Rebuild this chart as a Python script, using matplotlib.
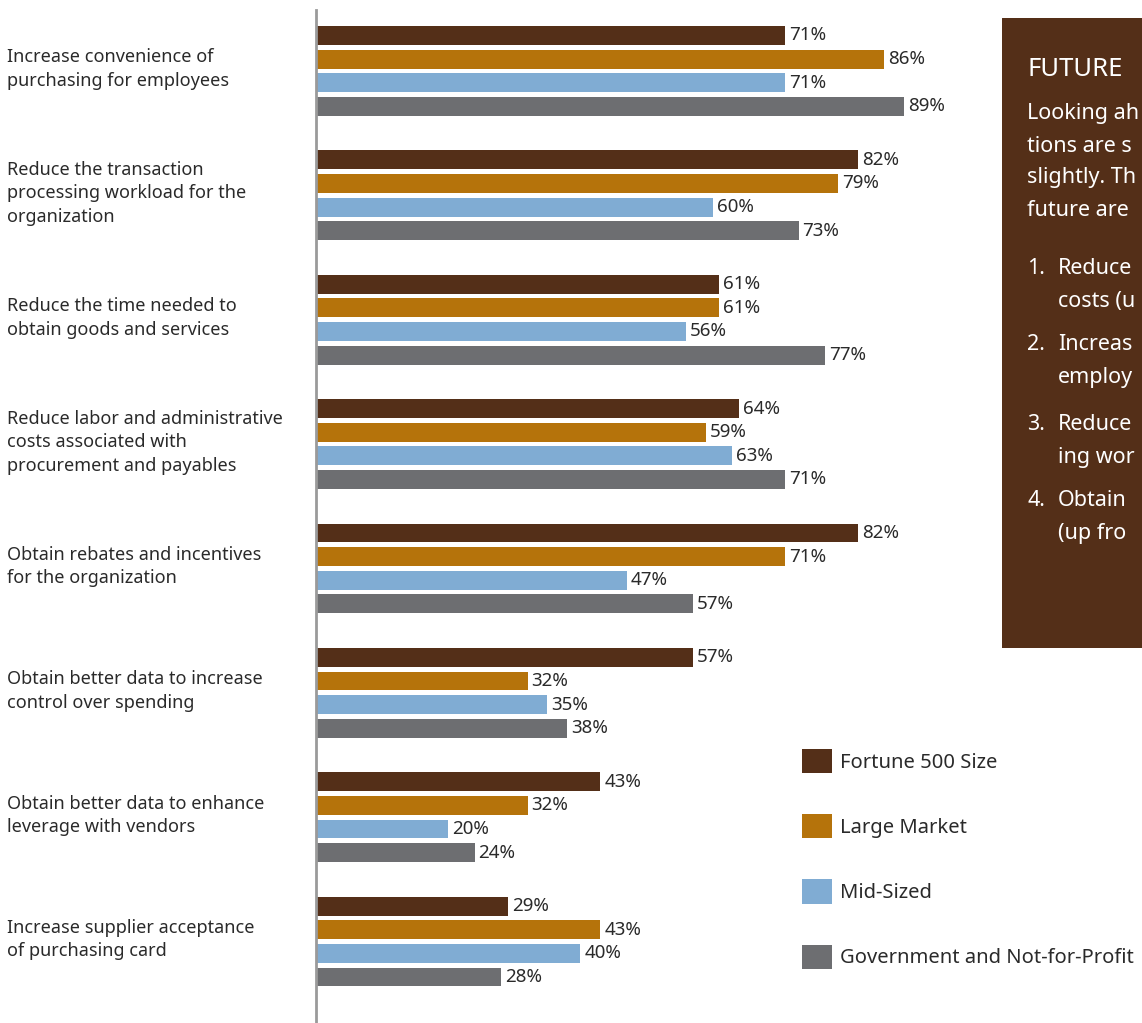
import numpy as np
import matplotlib.pyplot as plt
from matplotlib.patches import Rectangle

# data
categories = [
    "Increase convenience of\npurchasing for employees",
    "Reduce the transaction\nprocessing workload for the\norganization",
    "Reduce the time needed to\nobtain goods and services",
    "Reduce labor and administrative\ncosts associated with\nprocurement and payables",
    "Obtain rebates and incentives\nfor the organization",
    "Obtain better data to increase\ncontrol over spending",
    "Obtain better data to enhance\nleverage with vendors",
    "Increase supplier acceptance\nof purchasing card",
]
series_names = ["Fortune 500 Size", "Large Market", "Mid-Sized",
                "Government and Not-for-Profit"]
fortune500 = [71, 82, 61, 64, 82, 57, 43, 29]
large_market = [86, 79, 61, 59, 71, 32, 32, 43]
mid_sized = [71, 60, 56, 63, 47, 35, 20, 40]
government = [89, 73, 77, 71, 57, 38, 24, 28]

# side box text, as far as it is visible (the box runs off the page)
box_title = "FUTURE"
box_lines = ["Looking ah", "tions are s", "slightly. Th", "future are"]
box_items = [
    ("1.", "Reduce", "costs (u"),
    ("2.", "Increas", "employ"),
    ("3.", "Reduce", "ing wor"),
    ("4.", "Obtain", "(up fro"),
]

colors = ["#542f18", "#b5730b", "#80acd3", "#6d6e71"]
text_color = "#2a2a2a"
plt.rcParams['font.family'] = ['Noto Sans', 'DejaVu Sans']

W, H = 1142, 1023
fig = plt.figure(figsize=(W / 100, H / 100), dpi=100)

# main bar axes, placed by pixel positions
ax = fig.add_axes([316 / W, 0, 661 / W, 1013 / H])
group_step = 5.27
bar_h = 0.8
all_series = [fortune500, large_market, mid_sized, government]
group_y = np.arange(len(categories)) * group_step

for j, (vals, col, name) in enumerate(zip(all_series, colors, series_names)):
    ys = group_y + j
    ax.barh(ys, vals, height=bar_h, color=col, label=name)
    for v, y in zip(vals, ys):
        ax.text(v + 0.6, y, f"{v}%", va='center', ha='left',
                fontsize=13.5, color=text_color)

for cat, gy in zip(categories, group_y):
    ax.text(-0.4675, gy + 1.42, cat, transform=ax.get_yaxis_transform(),
            ha='left', va='center', fontsize=13, color=text_color,
            linespacing=1.4)

ax.set_xlim(0, 100)
ax.set_ylim(group_y[-1] + 3 + 1.95, -1.08)
for s in ['top', 'right', 'bottom']:
    ax.spines[s].set_visible(False)
ax.spines['left'].set_color('#9a9a9a')
ax.spines['left'].set_linewidth(2)
ax.set_xticks([])
ax.set_yticks([])

# legend
handles, labels = ax.get_legend_handles_labels()
fig.legend(handles, labels, loc='upper left',
           bbox_to_anchor=(802 / W, 1 - 749 / H), frameon=False,
           fontsize=14.5, handlelength=1.48, handleheight=1.48,
           handletextpad=0.4, labelspacing=2.03, borderpad=0,
           borderaxespad=0, labelcolor=text_color)

# side box
bx = fig.add_axes([1002 / W, 1 - 648 / H, 140 / W, 630 / H])
bx.set_xlim(0, 140)
bx.set_ylim(630, 0)
bx.axis('off')
bx.add_patch(Rectangle((0, 0), 200, 630, color=colors[0], clip_on=True))
bx.text(25, 51, box_title, color='white', fontsize=18.5, va='center',
        ha='left', clip_on=True)
for i, line in enumerate(box_lines):
    bx.text(25, 96 + i * 32, line, color='white', fontsize=15.5,
            va='center', ha='left', clip_on=True)
item_y = [250, 327, 407, 483]
for (num, l1, l2), y in zip(box_items, item_y):
    bx.text(25, y, num, color='white', fontsize=15.5, va='center',
            ha='left', clip_on=True)
    bx.text(56, y, l1, color='white', fontsize=15.5, va='center',
            ha='left', clip_on=True)
    bx.text(56, y + 33, l2, color='white', fontsize=15.5, va='center',
            ha='left', clip_on=True)

fig.savefig('out.png', dpi=100)
